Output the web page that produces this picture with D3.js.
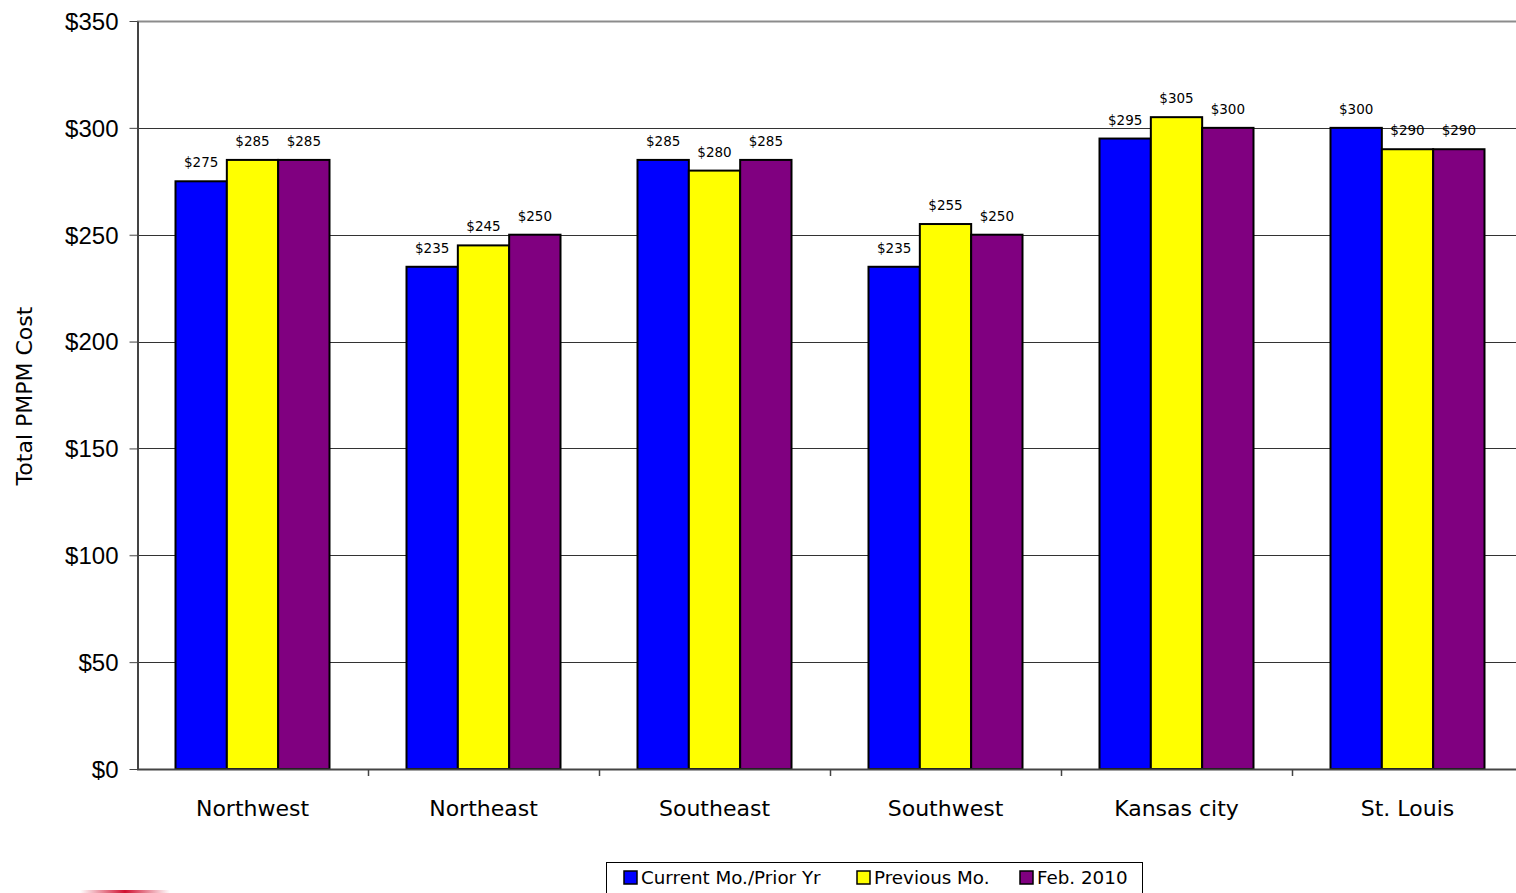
<!DOCTYPE html>
<html><head><meta charset="utf-8">
<script src="https://cdn.jsdelivr.net/npm/d3@7"></script>
<style>
html,body{margin:0;padding:0;background:#fff;overflow:hidden}
svg{display:block}
</style></head>
<body>
<svg id="chart" width="1516" height="893"></svg>
<script>
const categories = ["Northwest","Northeast","Southeast","Southwest","Kansas city","St. Louis"];
const seriesNames = ["Current Mo./Prior Yr","Previous Mo.","Feb. 2010"];
const currentPriorYr = [275,235,285,235,295,300];
const previousMo = [285,245,280,255,305,290];
const feb2010 = [285,250,285,250,300,290];
const yTicks = [0,50,100,150,200,250,300,350];
const colors = ["#0000FF","#FFFF00","#800080"];

(function(){
const series = [currentPriorYr, previousMo, feb2010];
const svg = d3.select("#chart");
const mLeft = 137, mTop = 21, mBottom = 769;
const fontTick = "'Liberation Sans', Arial, sans-serif";
const fontLbl = "'DejaVu Sans', Verdana, sans-serif";

const x = d3.scaleBand().domain(categories).range([mLeft, mLeft + 231*6]).paddingInner(0).paddingOuter(0);
const x1 = d3.scaleBand().domain(d3.range(3)).range([0, x.bandwidth()]).paddingInner(0).paddingOuter(0.75);
const y = d3.scaleLinear().domain([0,350]).range([mBottom, mTop]);

// gridlines
svg.append("g").selectAll("line").data(yTicks.filter(d=>d>0)).join("line")
  .attr("x1", mLeft).attr("x2", 1516)
  .attr("y1", d=>Math.round(y(d))+0.5).attr("y2", d=>Math.round(y(d))+0.5)
  .attr("stroke", d=> d===350 ? "#8c8c8c" : "#333").attr("stroke-width", d=> d===350 ? 2 : 1);

// y axis
const yAxis = d3.axisLeft(y).tickValues(yTicks).tickFormat(d=>"$"+d).tickSize(8).tickSizeOuter(0);
const gy = svg.append("g").attr("transform", `translate(${mLeft+0.5},0)`).call(yAxis);
gy.select(".domain").attr("stroke","#444").attr("stroke-width",2);
gy.selectAll(".tick line").attr("stroke","#444");
gy.selectAll(".tick text").attr("font-family", fontTick).attr("font-size", 24).attr("fill","#000").attr("x",-19).attr("dy","0.35em");

// bars
const groups = svg.append("g").selectAll("g").data(categories).join("g")
  .attr("transform", d=>`translate(${x(d)},0)`);
groups.selectAll("rect").data((c,i)=>series.map((s,k)=>({k, v:s[i]}))).join("rect")
  .attr("x", d=>x1(d.k)).attr("width", x1.bandwidth())
  .attr("y", d=>y(d.v)).attr("height", d=>y(0)-y(d.v))
  .attr("fill", d=>colors[d.k]).attr("stroke","#000").attr("stroke-width",2);
groups.selectAll("text").data((c,i)=>series.map((s,k)=>({k, v:s[i]}))).join("text")
  .attr("x", d=>x1(d.k)+x1.bandwidth()/2).attr("y", d=>y(d.v)-14)
  .attr("text-anchor","middle").attr("font-family", fontLbl).attr("font-size", 13.5).attr("fill","#000")
  .text(d=>"$"+d.v);

// x axis
const xAxis = d3.axisBottom(x).tickSize(0).tickSizeOuter(0);
const gx = svg.append("g").attr("transform", `translate(0,${mBottom+0.5})`).call(xAxis);
gx.select(".domain").attr("stroke","#444").attr("stroke-width",2).attr("d", `M${mLeft},0H1516`);
gx.selectAll(".tick text").attr("font-family", fontLbl).attr("font-size", 22).attr("fill","#000").attr("y", 39).attr("dy","0.35em");
svg.append("g").selectAll("line").data(categories.slice(1)).join("line")
  .attr("x1", d=>Math.round(x(d))+0.5).attr("x2", d=>Math.round(x(d))+0.5)
  .attr("y1", mBottom).attr("y2", mBottom+7).attr("stroke","#444").attr("stroke-width",1.5);

// y title
svg.append("text").attr("transform","translate(32,396) rotate(-90)").attr("text-anchor","middle")
  .attr("font-family", fontLbl).attr("font-size", 22).attr("fill","#000").text("Total PMPM Cost");

// legend
const lg = svg.append("g");
lg.append("rect").attr("x",606.5).attr("y",862.5).attr("width",536).attr("height",40).attr("fill","#fff").attr("stroke","#000").attr("stroke-width",1);
const legX = [624, 857, 1020];
const li = lg.selectAll("g").data(seriesNames).join("g").attr("transform",(d,i)=>`translate(${legX[i]},871)`);
li.append("rect").attr("width",13).attr("height",13).attr("fill",(d,i)=>colors[i]).attr("stroke","#000").attr("stroke-width",1.5);
li.append("text").attr("x",17).attr("y",7).attr("dy","0.35em").attr("font-family", fontLbl).attr("font-size",18.3).attr("fill","#000").text(d=>d);

// logo fragment
const defs = svg.append("defs");
const gr = defs.append("linearGradient").attr("id","rg");
gr.append("stop").attr("offset","0").attr("stop-color","#d01030").attr("stop-opacity",0);
gr.append("stop").attr("offset","0.5").attr("stop-color","#d01030").attr("stop-opacity",1);
gr.append("stop").attr("offset","1").attr("stop-color","#d01030").attr("stop-opacity",0);
svg.append("rect").attr("x",80).attr("y",890).attr("width",90).attr("height",3).attr("fill","url(#rg)");
})();
</script>
</body></html>
